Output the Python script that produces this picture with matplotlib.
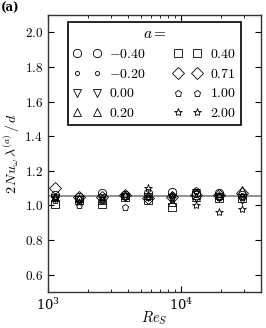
import numpy as np
import matplotlib
matplotlib.use("Agg")
from matplotlib import pyplot as plt
from matplotlib.ticker import FuncFormatter, LogLocator

plt.rcParams['mathtext.fontset'] = 'cm'
plt.rcParams['font.family'] = 'serif'
plt.rcParams['font.serif'] = ['DejaVu Serif']

re_s = [1130, 1700, 2550, 3800, 5700, 8600, 13000, 19500, 29000]
a_labels = ['-0.40', '-0.20', '0.00', '0.20', '0.40', '0.71', '1.00', '2.00']
nu = [
	[1.06, 1.05, 1.07, 1.06, 1.07, 1.08, 1.07, 1.07, 1.06],
	[1.05, 1.04, 1.05, 1.06, 1.05, 1.06, 1.08, 1.06, 1.06],
	[1.04, 1.03, 1.04, 1.05, 1.05, 1.04, 1.07, 1.05, 1.03],
	[1.05, 1.04, 1.03, 1.06, 1.06, 1.02, 1.05, 1.06, 1.09],
	[1.01, 1.03, 1.01, 1.05, 1.03, 0.99, 1.06, 1.04, 1.04],
	[1.10, 1.05, 1.05, 1.06, 1.04, 1.05, 1.06, 1.06, 1.07],
	[1.03, 1.00, 1.03, 0.99, 1.05, 1.06, 1.09, 1.05, 1.05],
	[1.04, 1.02, 1.04, 1.06, 1.10, 1.04, 1.00, 0.96, 0.98],
]
mean_value = 1.055

markers = ['o', 'o', 'v', '^', 's', 'D', 'p', '*']
sizes = [6, 3, 6, 6, 5.5, 6, 5, 6]

fig = plt.figure(figsize=(2.66, 3.28), dpi=100)
ax = fig.add_axes([0.180, 0.110, 0.801, 0.844])

ax.axhline(mean_value, color='#888888', lw=1.3, zorder=1)
for vals, lab, m, s in zip(nu, a_labels, markers, sizes):
	ax.plot(re_s, vals, ls='none', marker=m, ms=s, mfc='none', mec='black',
			mew=0.6, label='$%s$' % lab, zorder=2)

ax.set_xscale('log')
ax.set_xlim(1e3, 4e4)
ax.set_ylim(0.5, 2.1)
ax.set_yticks(np.arange(0.6, 2.01, 0.2))
ax.yaxis.set_major_formatter(FuncFormatter(lambda v, p: '$%.1f$' % v))
ax.xaxis.set_major_locator(LogLocator(base=10))
ax.tick_params(which='both', direction='in', top=True, right=True, labelsize=9.5)
ax.tick_params(which='major', length=4)
ax.tick_params(which='minor', length=2)
for sp in ax.spines.values():
	sp.set_color('#333333')
	sp.set_linewidth(1.0)

ax.set_xlabel('$Re_S$', fontsize=10.5)
ax.xaxis.set_label_coords(0.5, -0.062)
ax.set_ylabel('$2\\,Nu_\\omega\\,\\lambda^{(a)}\\,/\\,d$', fontsize=10, labelpad=2)

leg = ax.legend(title='$a=$', ncol=2, numpoints=2, fontsize=10, title_fontsize=11,
				loc='upper center', bbox_to_anchor=(0.5, 0.975), borderaxespad=0,
				fancybox=False, edgecolor='black', framealpha=1, handlelength=2.0,
				handletextpad=0.6, columnspacing=2.0, labelspacing=0.42, borderpad=0.35)
leg.get_frame().set_linewidth(1.2)

fig.text(0.005, 0.995, '(a)', fontweight='bold', fontsize=8.5, va='top', ha='left')

fig.savefig('out.png', dpi=100)
